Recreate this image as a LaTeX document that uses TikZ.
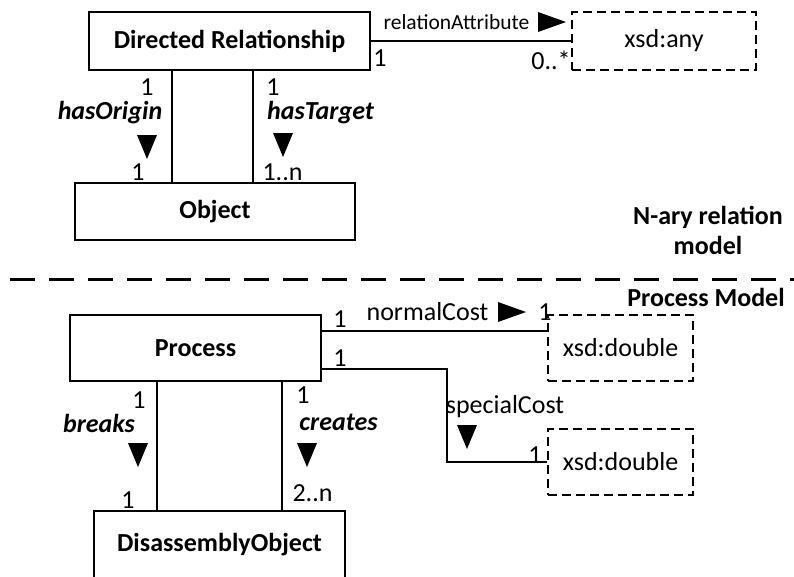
\documentclass[tikz,border=0pt]{standalone}
\usepackage{fontspec}
\setmainfont{Carlito}
\usetikzlibrary{calc}

\newcommand{\DownTip}[1]{\fill (#1) ++(-10,-12) -- ++(20,0) -- ++(-10,24) -- cycle;}
\newcommand{\RightTip}[1]{\fill (#1) ++(-14,-10) -- ++(0,20) -- ++(28,-10) -- cycle;}

\begin{document}
\begin{tikzpicture}[x=1pt, y=-1pt, font=\fontsize{26}{30}\selectfont,
	ClassBox/.style = {draw, line width=1.4pt, inner sep=0pt, font=\fontsize{26}{30}\selectfont\bfseries},
	TypeBox/.style = {draw, line width=1.4pt, dash pattern=on 9pt off 5pt, inner sep=0pt},
	Role/.style = {font=\fontsize{26}{30}\selectfont\bfseries\itshape},
	Link/.style = {line width=1.4pt}]
	\clip (0,0) rectangle (794,576);
	% N-ary relation model
	\node[ClassBox, minimum width=281, minimum height=58] (DR) at (229.5,41) {Directed Relationship};
	\node[ClassBox, minimum width=280, minimum height=57] (Obj) at (215,211.5) {Object};
	\node[TypeBox, minimum width=184, minimum height=58] (Any) at (664,41) {xsd:any};
	\coordinate (OrgX) at (172,0);
	\coordinate (TgtX) at (253,0);
	\draw[Link] (DR.south -| OrgX) -- (Obj.north -| OrgX);
	\draw[Link] (DR.south -| TgtX) -- (Obj.north -| TgtX);
	\draw[Link] (DR.east) -- (Any.west);
	\node (DRorg) at (147,87) {1};
	\node[Role] (hasOrigin) at (110,113) {hasOrigin};
	\node (Objorg) at (138,172) {1};
	\node (DRtgt) at (273,87) {1};
	\node[Role] (hasTarget) at (320.5,113) {hasTarget};
	\node (Objtgt) at (282.5,172) {1..n};
	\node[font=\fontsize{21.5}{25}\selectfont] (relAttr) at (456.5,22) {relationAttribute};
	\node (DRatt) at (380,58) {1};
	\node (Anyatt) at (551,60) {0..*};
	\DownTip{147,147}
	\DownTip{283,145}
	\RightTip{552,22}
	\node[font=\fontsize{26}{30}\selectfont\bfseries, align=center] (NaryTitle) at (708,230) {N-ary relation\\model};
	% separator
	\coordinate (SepL) at (10,279);
	\coordinate (SepR) at (794,279);
	\draw[line width=3pt, dash pattern=on 25pt off 14pt] (SepL) -- (SepR);
	% Process model
	\node[font=\fontsize{26}{30}\selectfont\bfseries] (ProcTitle) at (706,297) {Process Model};
	\node[ClassBox, minimum width=251, minimum height=66] (Proc) at (195.5,348) {Process};
	\node[ClassBox, minimum width=251, minimum height=68] (Dis) at (219.5,545) {DisassemblyObject};
	\node[TypeBox, minimum width=145, minimum height=66] (Dbl1) at (620.5,348) {xsd:double};
	\node[TypeBox, minimum width=145, minimum height=66] (Dbl2) at (620.5,462) {xsd:double};
	\coordinate (BrkX) at (157,0);
	\coordinate (CrtX) at (282,0);
	\coordinate (SpcX) at (447,0);
	\draw[Link] (Proc.south -| BrkX) -- (Dis.north -| BrkX);
	\draw[Link] (Proc.south -| CrtX) -- (Dis.north -| CrtX);
	\draw[Link] ([yshift=17pt]Proc.east) -- ([yshift=17pt]Dbl1.west);
	\draw[Link] ([yshift=-21pt]Proc.east) -| (SpcX |- Dbl2.west) -- (Dbl2.west);
	\node (Procnrm) at (340,319) {1};
	\node (normalCost) at (427.5,312) {normalCost};
	\node (Dblnrm) at (545,312) {1};
	\node (Procspc) at (340,358) {1};
	\node (specialCost) at (505,407) {specialCost};
	\node (Dblspc) at (535,455) {1};
	\node[inner sep=1pt] (Procbrk) at (139,400) {1};
	\node[Role, inner sep=1pt] (breaks) at (99,423) {breaks};
	\node (Disbrk) at (128,500) {1};
	\node (Proccrt) at (303,395) {1};
	\node[Role] (creates) at (338.5,422) {creates};
	\node (Discrt) at (312.5,493) {2..n};
	\RightTip{512,312}
	\DownTip{467,437}
	\DownTip{138,455}
	\DownTip{307,455}
\end{tikzpicture}
\end{document}
